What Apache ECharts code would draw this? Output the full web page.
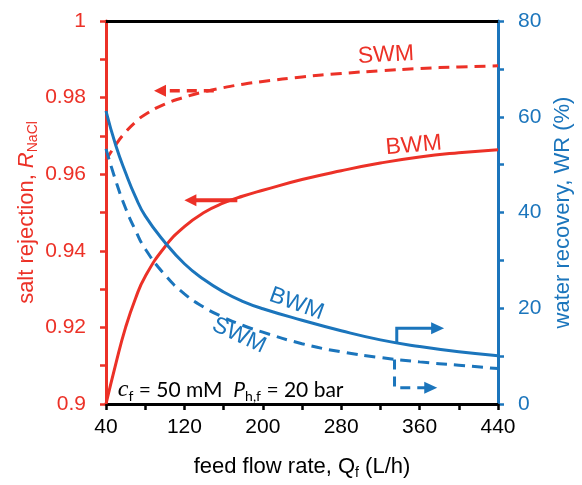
<!DOCTYPE html>
<html>
<head>
<meta charset="utf-8">
<script src="https://cdn.jsdelivr.net/npm/echarts@6/dist/echarts.min.js"></script>
<style>
  html, body { margin: 0; padding: 0; background: #fff; }
  #chart { width: 582px; height: 485px; }
</style>
</head>
<body>
<div id="chart"></div>
<script>
// Feed flow rate (L/h)
const flowRate = [40, 50, 60, 70, 80, 100, 120, 140, 160, 180, 200, 240, 280, 320, 360, 400, 440];
// Salt rejection, left axis
const rejectionBWM = [0.9000, 0.9105, 0.9200, 0.9275, 0.9333, 0.9410, 0.9463, 0.9500, 0.9525, 0.9543, 0.9558, 0.9586, 0.9609, 0.9629, 0.9645, 0.9656, 0.9664];
const rejectionSWM = [0.9637, 0.9677, 0.9710, 0.9736, 0.9756, 0.9783, 0.9801, 0.9815, 0.9826, 0.9835, 0.9842, 0.9854, 0.9863, 0.9870, 0.9876, 0.9880, 0.9883];
// Water recovery (%), right axis
const recoveryBWM = [61.2, 54.0, 48.3, 43.3, 39.3, 33.8, 29.3, 26.0, 23.4, 21.4, 19.9, 17.5, 15.3, 13.4, 12.0, 10.9, 10.1];
const recoverySWM = [53.3, 46.6, 40.9, 36.3, 32.4, 27.0, 23.0, 20.2, 18.1, 16.4, 15.0, 12.6, 10.9, 9.7, 8.8, 8.1, 7.4];

const RED = '#EC3127';
const BLUE = '#1B75BC';
const FONT = '"Liberation Sans", Arial, sans-serif';

const pairs = (xs, ys) => xs.map((x, i) => [x, ys[i]]);

const chart = echarts.init(document.getElementById('chart'), null, { renderer: 'canvas' });

function curve(name, values, color, yAxisIndex, dashed) {
  return {
    name, type: 'line', yAxisIndex,
    data: pairs(flowRate, values),
    showSymbol: false, smooth: 0.5,
    lineStyle: { color, width: 3, type: dashed ? [11, 7] : 'solid' },
    silent: true, z: 3
  };
}

chart.setOption({
  animation: false,
  grid: { left: 106, right: 81, top: 21, bottom: 73 },
  xAxis: [{
    type: 'value', min: 40, max: 440, interval: 80,
    name: '{n|feed flow rate, }{q|Q}{s|f}{n| (L/h)}',
    nameLocation: 'middle', nameGap: 50, nameMoveOverlap: false,
    nameTextStyle: {
      rich: {
        n: { fontFamily: FONT, fontSize: 22, color: '#000', lineHeight: 26 },
        q: { fontFamily: FONT, fontSize: 22, color: '#000', lineHeight: 26 },
        s: { fontFamily: FONT, fontSize: 14, color: '#000', lineHeight: 8, verticalAlign: 'bottom' }
      }
    },
    axisLine: { show: true, onZero: false, lineStyle: { color: '#000', width: 3 } },
    axisTick: { show: true, inside: false, length: 6, lineStyle: { color: '#000', width: 2.5 } },
    minorTick: { show: true, splitNumber: 2, length: 6, lineStyle: { color: '#000', width: 2.5 } },
    axisLabel: { color: '#000', fontFamily: FONT, fontSize: 21, margin: 13 },
    splitLine: { show: false }
  }, {
    type: 'value', min: 40, max: 440, position: 'top',
    axisLine: { show: true, onZero: false, lineStyle: { color: '#000', width: 3 } },
    axisTick: { show: false }, axisLabel: { show: false }, splitLine: { show: false }
  }],
  yAxis: [{
    type: 'value', min: 0.9, max: 1, interval: 0.02, position: 'left',
    name: '{n|salt rejection, }{i|R}{s|NaCl}',
    nameLocation: 'middle', nameRotate: 90, nameGap: 66, nameMoveOverlap: false,
    nameTextStyle: {
      rich: {
        n: { fontFamily: FONT, fontSize: 22, color: RED, lineHeight: 26 },
        i: { fontFamily: FONT, fontSize: 22, color: RED, fontStyle: 'italic', lineHeight: 26 },
        s: { fontFamily: FONT, fontSize: 14, color: RED, lineHeight: 8, verticalAlign: 'bottom' }
      }
    },
    axisLine: { show: true, onZero: false, lineStyle: { color: RED, width: 3 } },
    axisTick: { show: true, inside: false, length: 6, lineStyle: { color: RED, width: 2.5 } },
    minorTick: { show: true, splitNumber: 2, length: 6, lineStyle: { color: RED, width: 2.5 } },
    axisLabel: { color: RED, fontFamily: FONT, fontSize: 21, margin: 20 },
    splitLine: { show: false }
  }, {
    type: 'value', min: 0, max: 80, interval: 20, position: 'right',
    name: 'water recovery, WR (%)',
    nameLocation: 'middle', nameRotate: 90, nameGap: 54, nameMoveOverlap: false,
    nameTextStyle: { fontFamily: FONT, fontSize: 22, color: BLUE },
    axisLine: { show: true, onZero: false, lineStyle: { color: BLUE, width: 3 } },
    axisTick: { show: true, inside: false, length: 6, lineStyle: { color: BLUE, width: 2.5 } },
    minorTick: { show: true, splitNumber: 2, length: 6, lineStyle: { color: BLUE, width: 2.5 } },
    axisLabel: { color: BLUE, fontFamily: FONT, fontSize: 21, margin: 20 },
    splitLine: { show: false }
  }],
  series: [
    curve('rejection BWM', rejectionBWM, RED, 0, false),
    curve('rejection SWM', rejectionSWM, RED, 0, true),
    curve('recovery BWM', recoveryBWM, BLUE, 1, false),
    curve('recovery SWM', recoverySWM, BLUE, 1, true)
  ]
});

// Annotations placed in data space and converted to pixels
const toPx = (q, v, yAxisIndex) => chart.convertToPixel({ xAxisIndex: 0, yAxisIndex }, [q, v]);

function arrow(pts, color, dashed, width, headLen, headHalf) {
  const n = pts.length;
  const [x1, y1] = pts[n - 2];
  const [x2, y2] = pts[n - 1];
  const len = Math.hypot(x2 - x1, y2 - y1);
  const ux = (x2 - x1) / len, uy = (y2 - y1) / len;
  const bx = x2 - ux * headLen, by = y2 - uy * headLen;
  const shaft = pts.slice(0, n - 1).concat([[bx + ux * 1, by + uy * 1]]);
  return [{
    type: 'polyline', silent: true, z: 10,
    shape: { points: shaft },
    style: { stroke: color, lineWidth: width, fill: null, lineDash: dashed ? [10, 7] : null, lineJoin: 'miter' }
  }, {
    type: 'polygon', silent: true, z: 10,
    shape: { points: [[x2, y2], [bx - uy * headHalf, by + ux * headHalf], [bx + uy * headHalf, by - ux * headHalf]] },
    style: { fill: color, stroke: null }
  }];
}

function label(text, q, v, yAxisIndex, color, rotDeg) {
  const [x, y] = toPx(q, v, yAxisIndex);
  return {
    type: 'text', silent: true, z: 10, x, y, rotation: rotDeg * Math.PI / 180,
    style: { text, fill: color, font: '23px ' + FONT, align: 'center', verticalAlign: 'middle' }
  };
}

const graphics = [];
// Red arrows pointing to the left axis
graphics.push(...arrow([toPx(150, 0.9818, 0), toPx(89, 0.9818, 0)], RED, true, 3.5, 12, 6));
graphics.push(...arrow([toPx(174, 0.9532, 0), toPx(120, 0.9532, 0)], RED, false, 4, 12, 6));
// Blue arrows pointing to the right axis
graphics.push(...arrow([toPx(336.7, 12.8, 1), toPx(336.7, 15.8, 1), toPx(385, 15.8, 1)], BLUE, false, 3, 13, 6));
graphics.push(...arrow([toPx(334.4, 9.3, 1), toPx(334.4, 3.4, 1), toPx(378, 3.4, 1)], BLUE, true, 3, 13, 6));

graphics.push(label('SWM', 325.6, 0.9911, 0, RED, 3));
graphics.push(label('BWM', 354, 0.9675, 0, RED, 5));
graphics.push(label('BWM', 234.4, 20.9, 1, BLUE, -20));
graphics.push(label('SWM', 175.7, 14.3, 1, BLUE, -25));

// Operating conditions
const cond = toPx(52, 2.9, 1);
graphics.push({
  type: 'text', silent: true, z: 10, x: cond[0], y: cond[1],
  style: {
    text: '{c|c}{s|f}{n| = 50 mM  }{p|P}{s|h,f}{n| = 20 bar}',
    align: 'left', verticalAlign: 'middle',
    rich: {
      c: { fontFamily: '"Liberation Serif", serif', fontStyle: 'italic', fontSize: 24, fill: '#000', lineHeight: 26 },
      p: { fontFamily: 'Lato, sans-serif', fontStyle: 'italic', fontSize: 21, fill: '#000', lineHeight: 26 },
      n: { fontFamily: 'Lato, sans-serif', fontSize: 21, fill: '#000', lineHeight: 26 },
      s: { fontFamily: 'Lato, sans-serif', fontSize: 14, fill: '#000', lineHeight: 8, verticalAlign: 'bottom' }
    }
  }
});

chart.setOption({ graphic: graphics });
</script>
</body>
</html>
